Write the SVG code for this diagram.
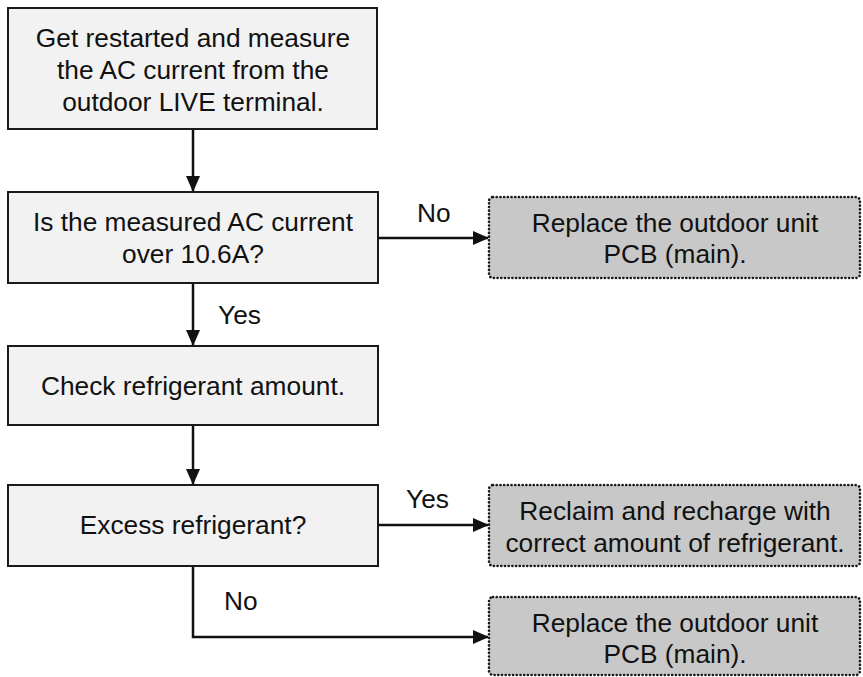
<svg xmlns="http://www.w3.org/2000/svg" width="863" height="677" viewBox="0 0 863 677">
<style>
.box{fill:#f2f2f2;stroke:#1a1a1a;stroke-width:2}
.res{fill:#c8c8c8;stroke:#1a1a1a;stroke-width:2.6;stroke-dasharray:0.1 3.6;stroke-linecap:round}
text{font-family:"Liberation Sans",Arial,sans-serif;font-size:26.3px;fill:#111;text-anchor:middle}
.lbl{text-anchor:start}
.con{fill:none;stroke:#111;stroke-width:2.5}
</style>
<defs>
<marker id="ah" markerWidth="16" markerHeight="14" refX="15" refY="7" orient="auto" markerUnits="userSpaceOnUse">
<path d="M0,0 L16,7 L0,14 Z" fill="#111"/>
</marker>
</defs>
<rect width="863" height="677" fill="#fff"/>
<g id="connectors">
<line class="con" x1="193" y1="129" x2="193" y2="191" marker-end="url(#ah)"/>
<line class="con" x1="378" y1="238" x2="488" y2="238" marker-end="url(#ah)"/>
<line class="con" x1="193" y1="283" x2="193" y2="345" marker-end="url(#ah)"/>
<line class="con" x1="193" y1="425" x2="193" y2="484" marker-end="url(#ah)"/>
<line class="con" x1="378" y1="525" x2="488" y2="525" marker-end="url(#ah)"/>
<polyline class="con" points="193,566 193,637 488,637" marker-end="url(#ah)"/>
<text class="lbl" x="417" y="222">No</text>
<text class="lbl" x="218" y="324">Yes</text>
<text class="lbl" x="406" y="508">Yes</text>
<text class="lbl" x="224" y="610">No</text>
</g>
<g id="n1">
<rect class="box" x="8" y="8" width="369" height="121"/>
<text x="193" y="47">Get restarted and measure</text>
<text x="193" y="79">the AC current from the</text>
<text x="193" y="111">outdoor LIVE terminal.</text>
</g>
<g id="n2">
<rect class="box" x="8" y="192" width="370" height="91"/>
<text x="193" y="231">Is the measured AC current</text>
<text x="193" y="263">over 10.6A?</text>
</g>
<g id="n3">
<rect class="res" x="489" y="197" width="371" height="81" rx="4"/>
<text x="675" y="232">Replace the outdoor unit</text>
<text x="675" y="263">PCB (main).</text>
</g>
<g id="n4">
<rect class="box" x="8" y="346" width="370" height="79"/>
<text x="193" y="395">Check refrigerant amount.</text>
</g>
<g id="n5">
<rect class="box" x="8" y="485" width="370" height="81"/>
<text x="193" y="534">Excess refrigerant?</text>
</g>
<g id="n6">
<rect class="res" x="489" y="485" width="371" height="81" rx="4"/>
<text x="675" y="520">Reclaim and recharge with</text>
<text x="675" y="552">correct amount of refrigerant.</text>
</g>
<g id="n7">
<rect class="res" x="489" y="597" width="371" height="78" rx="4"/>
<text x="675" y="632">Replace the outdoor unit</text>
<text x="675" y="663">PCB (main).</text>
</g>
</svg>
